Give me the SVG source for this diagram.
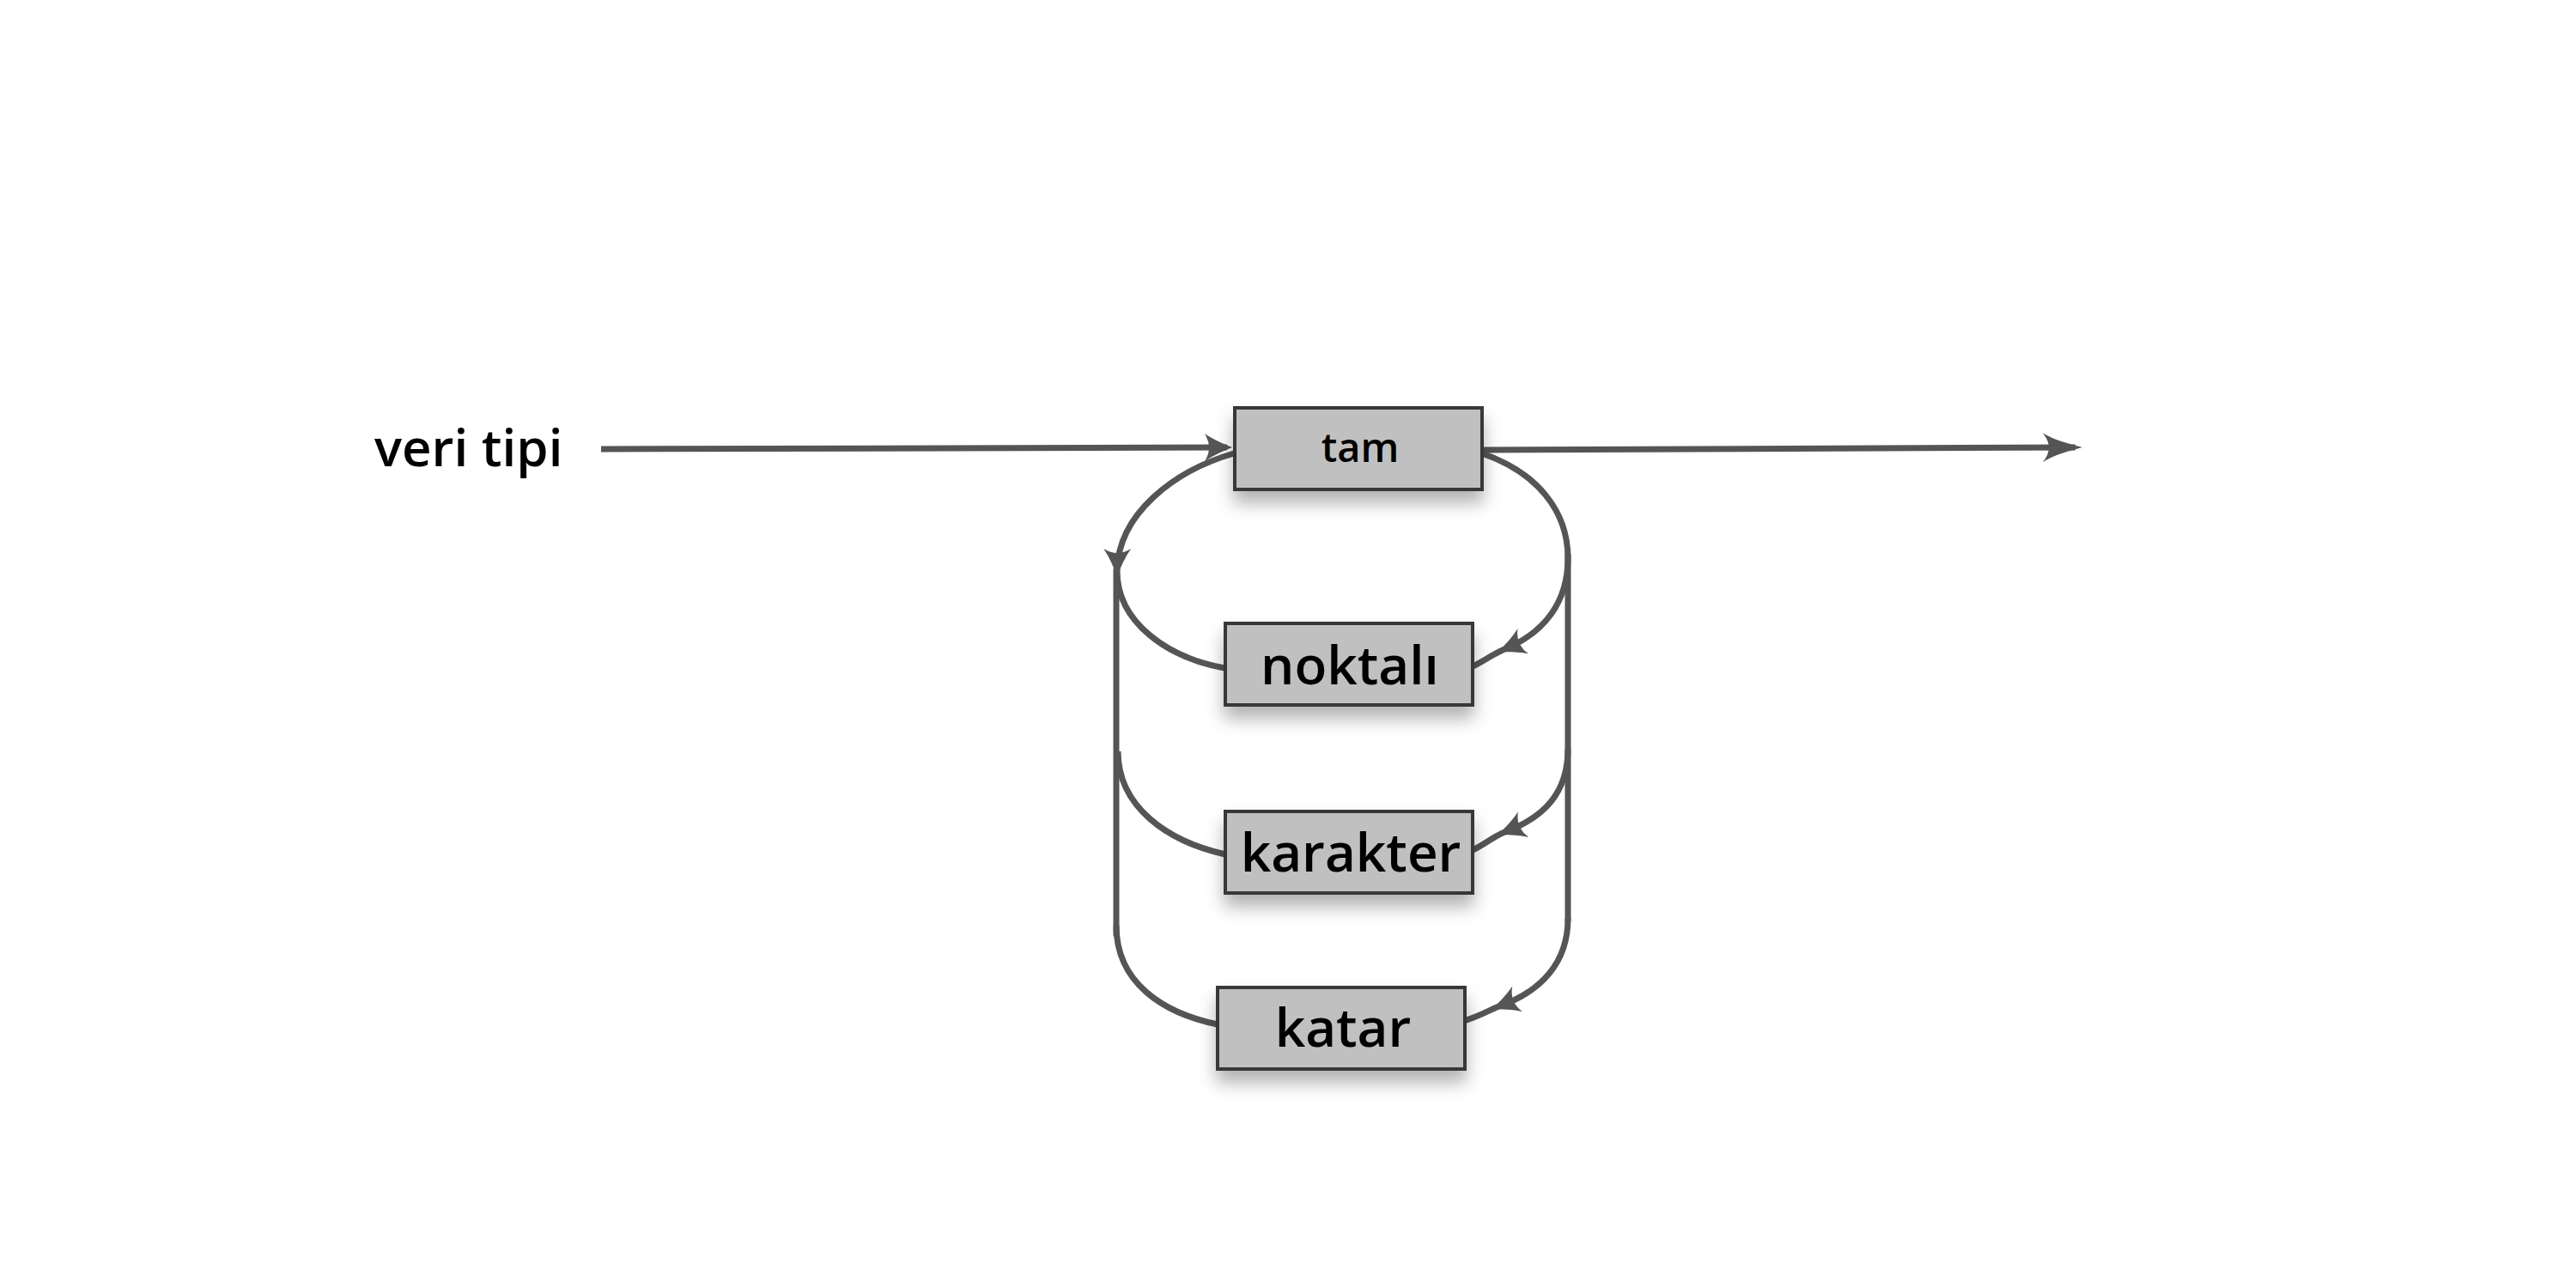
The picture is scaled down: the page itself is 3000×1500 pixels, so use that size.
<svg xmlns="http://www.w3.org/2000/svg" width="3000" height="1500" viewBox="0 0 3000 1500">
<style>
.bg{fill:#ffffff}
.box{fill:#c0c0c0;stroke:#383838;stroke-width:4}
.lbl{font-family:"Open Sans","Noto Sans","DejaVu Sans",sans-serif;font-weight:600;fill:#000;text-anchor:middle}
.big{font-size:62px}
.small{font-size:47px}
.title{font-family:"Open Sans","Noto Sans","DejaVu Sans",sans-serif;font-weight:600;font-size:60px;fill:#000}
.ln{fill:none;stroke:#555555;stroke-width:7}
</style>
<defs>
<filter id="sh" x="-20%" y="-20%" width="140%" height="180%">
<feDropShadow dx="0" dy="14" stdDeviation="10" flood-color="#000" flood-opacity="0.3"/>
</filter>
<marker id="ah" markerUnits="userSpaceOnUse" orient="auto" refX="-6" refY="0" markerWidth="40" markerHeight="40" overflow="visible">
<path d="M0,0 C-10,-4 -22,-9 -32,-16 Q-22,0 -32,16 C-22,9 -10,4 0,0 Z" fill="#555555"/>
</marker>
<marker id="ahL" markerUnits="userSpaceOnUse" orient="auto" refX="-8" refY="0" markerWidth="60" markerHeight="40" overflow="visible">
<path d="M0,0 C-14,-4 -32,-8 -46,-17 Q-32,0 -46,17 C-32,8 -14,4 0,0 Z" fill="#555555"/>
</marker>
</defs>
<rect class="bg" x="0" y="0" width="3000" height="1500"/>
<g id="connectors">
<path class="ln" d="M700 523 L1429 521" marker-end="url(#ah)"/>
<path class="ln" d="M1726 524 L2417 521" marker-end="url(#ahL)"/>
<path class="ln" d="M1437 528 C1368 548 1302 598 1301 665 C1301 725 1360 766 1426 778" marker-mid="url(#ah)"/>
<line class="ln" x1="1300" y1="662" x2="1300" y2="1090"/>
<path class="ln" d="M1302 875 C1302 940 1360 980 1427 995"/>
<path class="ln" d="M1300 1078 C1300 1145 1355 1180 1418 1193"/>
<path class="ln" d="M1726 528 C1790 550 1826 595 1826 650"/>
<line class="ln" x1="1826" y1="645" x2="1826" y2="1073"/>
<path class="ln" d="M1826 650 C1826 700 1800 737 1750 757 C1737 763 1726 771 1715 776" marker-mid="url(#ah)"/>
<path class="ln" d="M1826 872 C1826 922 1800 952 1750 970 C1737 976 1726 985 1715 990" marker-mid="url(#ah)"/>
<path class="ln" d="M1826 1070 C1826 1120 1796 1155 1743 1173 C1730 1179 1717 1186 1704 1189" marker-mid="url(#ah)"/>
</g>
<g id="label-veri-tipi">
<text class="title" x="436" y="543">veri tipi</text>
</g>
<g id="node-tam">
<rect class="box" x="1438" y="475" width="288" height="95" filter="url(#sh)"/>
<text class="lbl small" x="1584" y="538">tam</text>
</g>
<g id="node-noktali">
<rect class="box" x="1427" y="726" width="288" height="95" filter="url(#sh)"/>
<text class="lbl big" x="1572" y="797">noktalı</text>
</g>
<g id="node-karakter">
<rect class="box" x="1427" y="945" width="288" height="95" filter="url(#sh)"/>
<text class="lbl big" x="1573" y="1015">karakter</text>
</g>
<g id="node-katar">
<rect class="box" x="1418" y="1150" width="288" height="95" filter="url(#sh)"/>
<text class="lbl big" x="1564" y="1219">katar</text>
</g>
</svg>
